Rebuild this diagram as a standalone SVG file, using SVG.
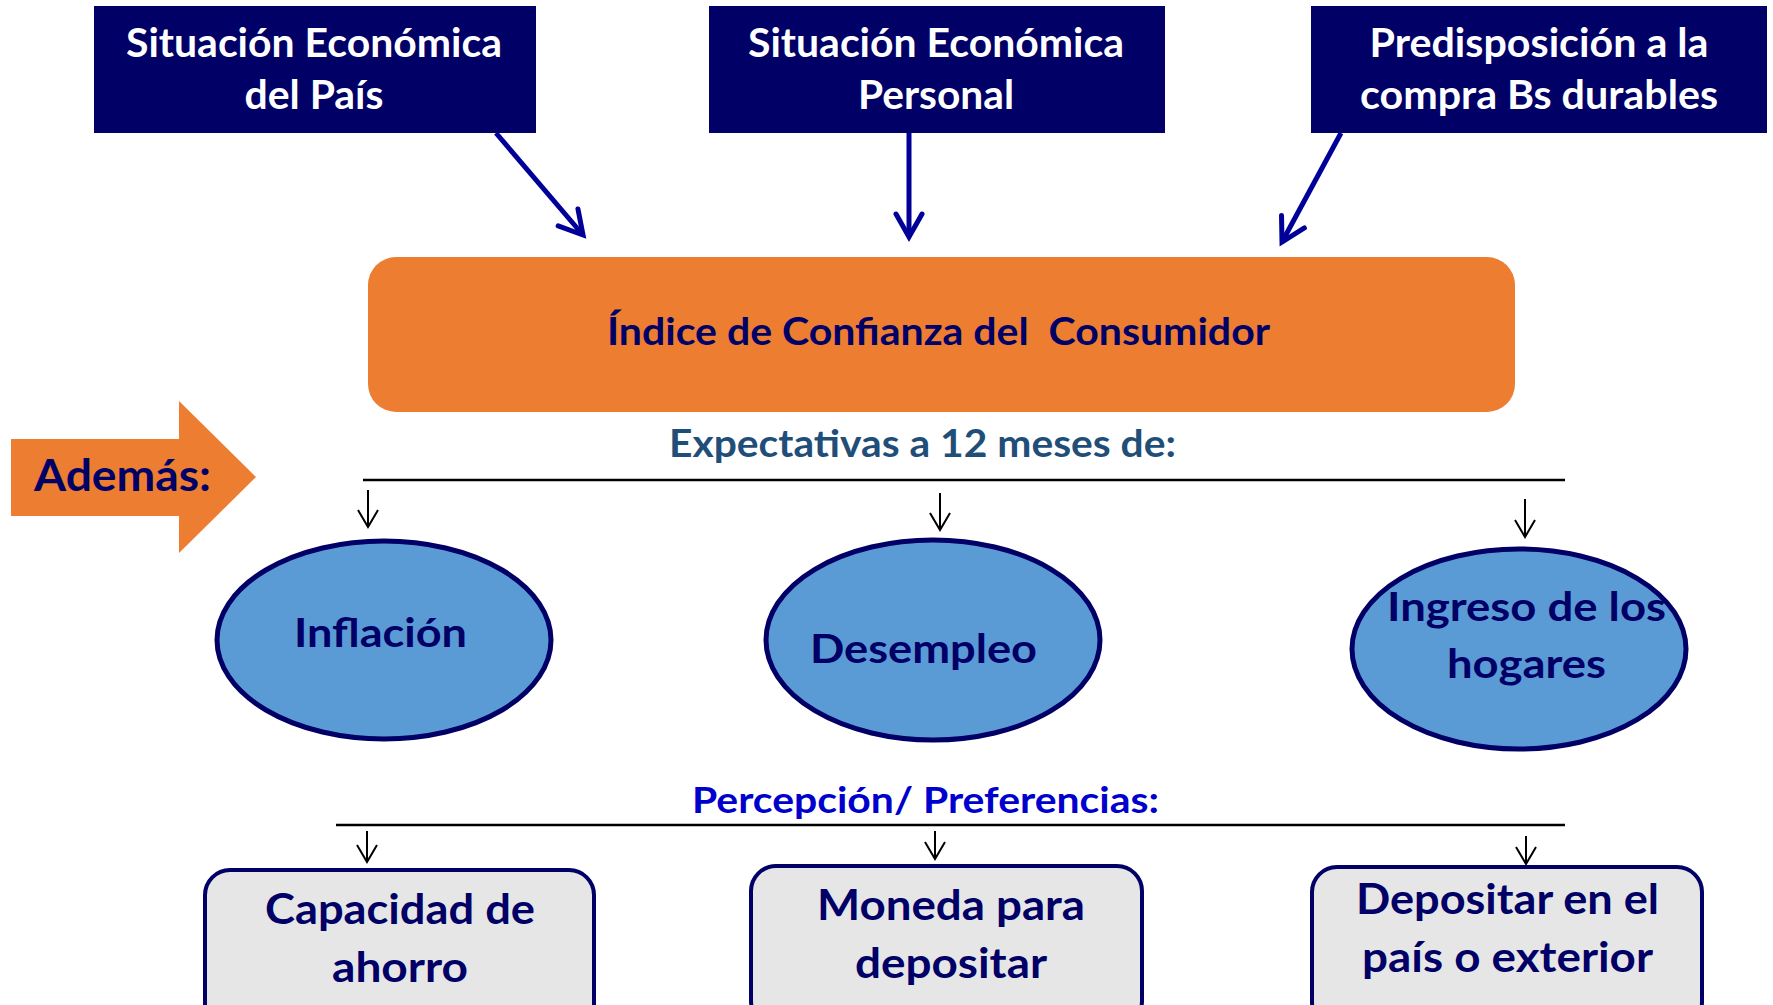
<svg xmlns="http://www.w3.org/2000/svg" width="1773" height="1005" viewBox="0 0 1773 1005">
<style>
.t{font-family:Lato,"Open Sans","Liberation Sans",sans-serif;font-weight:700;}
.topbox{fill:#000066}
.toptext{fill:#ffffff;font-size:40px}
.navy{fill:#000066}
.ell{fill:#5B9BD5;stroke:#000066;stroke-width:5}
.card{fill:#E7E6E6;stroke:#000066;stroke-width:4}
.big{stroke:#000099;stroke-width:5;fill:none}
.thin{stroke:#000000;stroke-width:2;fill:none}
.rule{stroke:#000000;stroke-width:2.5}
</style>
<defs>
<marker id="navyHead" markerUnits="userSpaceOnUse" markerWidth="40" markerHeight="40" refX="28" refY="18" orient="auto">
<path d="M5,5 L28,18 L5,31" fill="none" stroke="#000099" stroke-width="5" stroke-linecap="round" stroke-linejoin="miter"/>
</marker>
<marker id="thinHead" markerUnits="userSpaceOnUse" markerWidth="24" markerHeight="26" refX="18" refY="12" orient="auto">
<path d="M1,2 L18,12 L1,22" fill="none" stroke="#000000" stroke-width="2"/>
</marker>
</defs>
<rect width="1773" height="1005" fill="#ffffff"/>

<g id="node-pais">
<rect class="topbox" x="94" y="6" width="442" height="127"/>
<text class="t toptext" x="314" y="57" text-anchor="middle" textLength="376" lengthAdjust="spacingAndGlyphs">Situación Económica</text>
<text class="t toptext" x="314" y="109" text-anchor="middle" textLength="139" lengthAdjust="spacingAndGlyphs">del País</text>
</g>
<g id="node-personal">
<rect class="topbox" x="709" y="6" width="456" height="127"/>
<text class="t toptext" x="936" y="57" text-anchor="middle" textLength="376" lengthAdjust="spacingAndGlyphs">Situación Económica</text>
<text class="t toptext" x="936" y="109" text-anchor="middle" textLength="156" lengthAdjust="spacingAndGlyphs">Personal</text>
</g>
<g id="node-predisposicion">
<rect class="topbox" x="1311" y="6" width="456" height="127"/>
<text class="t toptext" x="1539" y="57" text-anchor="middle" textLength="339" lengthAdjust="spacingAndGlyphs">Predisposición a la</text>
<text class="t toptext" x="1539" y="109" text-anchor="middle" textLength="358" lengthAdjust="spacingAndGlyphs">compra Bs durables</text>
</g>

<g id="node-icc">
<rect x="368" y="257" width="1147" height="155" rx="28" fill="#ED7D31"/>
<text class="t navy" x="607" y="345" font-size="38" textLength="663" lengthAdjust="spacingAndGlyphs" style="white-space:pre">Índice de Confianza del  Consumidor</text>
</g>

<g id="node-ademas">
<polygon points="11,439 179,439 179,401 256,477 179,553 179,516 11,516" fill="#ED7D31"/>
<text class="t navy" x="34" y="491" font-size="43" textLength="177" lengthAdjust="spacingAndGlyphs">Además:</text>
</g>

<g id="label-expectativas">
<text class="t" x="669" y="457" font-size="38" fill="#1F4E79" textLength="507" lengthAdjust="spacingAndGlyphs">Expectativas a 12 meses de:</text>
</g>

<g id="node-inflacion">
<ellipse class="ell" cx="384" cy="640" rx="167" ry="99"/>
<text class="t navy" x="294" y="647" font-size="40" textLength="173" lengthAdjust="spacingAndGlyphs">Inflación</text>
</g>
<g id="node-desempleo">
<ellipse class="ell" cx="933" cy="640" rx="167" ry="100"/>
<text class="t navy" x="810" y="663" font-size="40" textLength="227" lengthAdjust="spacingAndGlyphs">Desempleo</text>
</g>
<g id="node-ingreso">
<ellipse class="ell" cx="1519" cy="649" rx="167" ry="100"/>
<text class="t navy" x="1387" y="621" font-size="40" textLength="279" lengthAdjust="spacingAndGlyphs">Ingreso de los</text>
<text class="t navy" x="1447" y="678" font-size="40" textLength="159" lengthAdjust="spacingAndGlyphs">hogares</text>
</g>

<g id="label-percepcion">
<text class="t" x="692" y="813" font-size="36" fill="#0000CC" textLength="467" lengthAdjust="spacingAndGlyphs">Percepción/ Preferencias:</text>
</g>

<g id="node-ahorro">
<rect class="card" x="205" y="870" width="389" height="160" rx="25"/>
<text class="t navy" x="265" y="924" font-size="42" textLength="270" lengthAdjust="spacingAndGlyphs">Capacidad de</text>
<text class="t navy" x="332" y="982" font-size="42" textLength="136" lengthAdjust="spacingAndGlyphs">ahorro</text>
</g>
<g id="node-moneda">
<rect class="card" x="751" y="866" width="391" height="160" rx="25"/>
<text class="t navy" x="817" y="920" font-size="42" textLength="268" lengthAdjust="spacingAndGlyphs">Moneda para</text>
<text class="t navy" x="855" y="978" font-size="42" textLength="192" lengthAdjust="spacingAndGlyphs">depositar</text>
</g>
<g id="node-depositar">
<rect class="card" x="1312" y="867" width="390" height="160" rx="25"/>
<text class="t navy" x="1356" y="914" font-size="42" textLength="303" lengthAdjust="spacingAndGlyphs">Depositar en el</text>
<text class="t navy" x="1362" y="972" font-size="42" textLength="291" lengthAdjust="spacingAndGlyphs">país o exterior</text>
</g>

<g id="connectors">
<line class="big" x1="496" y1="133" x2="583" y2="235" marker-end="url(#navyHead)"/>
<line class="big" x1="909" y1="133" x2="909" y2="237" marker-end="url(#navyHead)"/>
<line class="big" x1="1341" y1="133" x2="1282" y2="242" marker-end="url(#navyHead)"/>
<line class="rule" x1="363" y1="480" x2="1565" y2="480"/>
<line class="thin" x1="368" y1="490" x2="368" y2="527" marker-end="url(#thinHead)"/>
<line class="thin" x1="940" y1="493" x2="940" y2="530" marker-end="url(#thinHead)"/>
<line class="thin" x1="1525" y1="499" x2="1525" y2="537" marker-end="url(#thinHead)"/>
<line class="rule" x1="336" y1="825" x2="1565" y2="825"/>
<line class="thin" x1="367" y1="831" x2="367" y2="862" marker-end="url(#thinHead)"/>
<line class="thin" x1="935" y1="831" x2="935" y2="859" marker-end="url(#thinHead)"/>
<line class="thin" x1="1526" y1="836" x2="1526" y2="864" marker-end="url(#thinHead)"/>
</g>
</svg>
